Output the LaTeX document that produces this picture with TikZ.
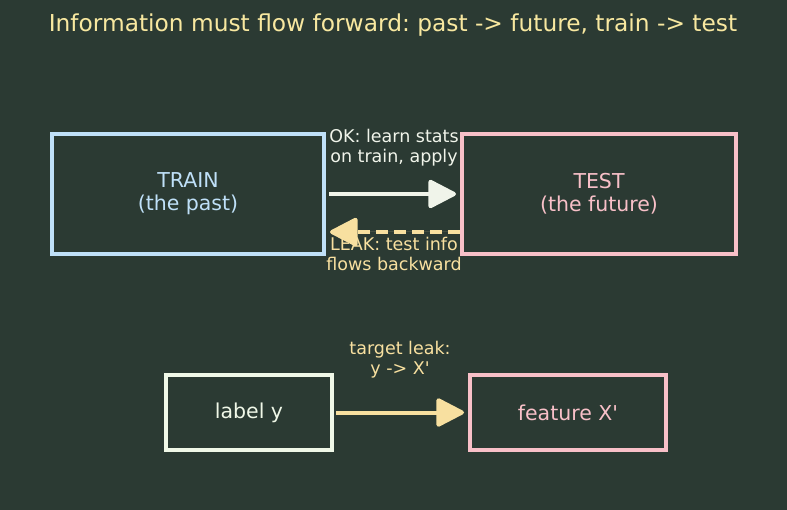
\documentclass[tikz,border=0pt]{standalone}
\usepackage{fontspec}
\setmainfont{DejaVu Sans}
\usetikzlibrary{arrows.meta}
\definecolor{bg}{HTML}{2B3A33}
\definecolor{trainc}{HTML}{BFE0F8}
\definecolor{testc}{HTML}{F8C0C8}
\definecolor{titlec}{HTML}{F8E8A0}
\definecolor{okc}{HTML}{F0F4EA}
\definecolor{leakc}{HTML}{F8E0A0}
\definecolor{lyc}{HTML}{F0F8E8}
\frenchspacing
\begin{document}
\begin{tikzpicture}[x=1pt,y=-1pt,
  box/.style={draw,line width=4pt,minimum width=#1,inner sep=0pt,align=center,font=\fontsize{20.5}{23}\selectfont},
  lab/.style={align=center,font=\fontsize{17.5}{20}\selectfont,inner sep=0pt},
  arr/.style={line width=4pt,-{Triangle[length=30pt,width=30pt,line join=round]},shorten >=4pt}]
\useasboundingbox[fill=bg] (0,0) rectangle (787,510);
\node[text=titlec,font=\fontsize{23.3}{26}\selectfont] (title) at (393,25.5) {Information must flow forward: past -> future, train -> test};
\node[box=272pt,minimum height=120pt,draw=trainc,text=trainc] (train) at (188,194) {TRAIN\\(the past)};
\node[box=274pt,minimum height=120pt,draw=testc,text=testc] (test) at (599,194) {TEST\\(the future)};
\node[box=166pt,minimum height=75pt,draw=lyc,text=lyc] (ly) at (249,412.5) {label y};
\node[box=196pt,minimum height=75pt,draw=testc,text=testc] (fx) at (568,412.5) {feature X\textquotesingle};
\draw[arr,draw=okc,fill=okc] (train.east|-0,194) ++(3,0) coordinate (a1) -- (test.west|-0,194);
\draw[arr,draw=leakc,fill=leakc,dash pattern=on 12pt off 6pt] (test.west|-0,232) -- (train.east|-0,232);
\draw[arr,draw=leakc,fill=leakc] (ly.east) ++(2,0) -- (fx.west);
\node[lab,text=okc] (oklab) at (394,148) {OK: learn stats\\on train, apply};
\node[lab,text=leakc] (leaklab) at (394,254) {LEAK: test info\\flows backward};
\node[lab,text=leakc] (tllab) at (400,360) {target leak:\\y -> X\textquotesingle};
\end{tikzpicture}
\end{document}
